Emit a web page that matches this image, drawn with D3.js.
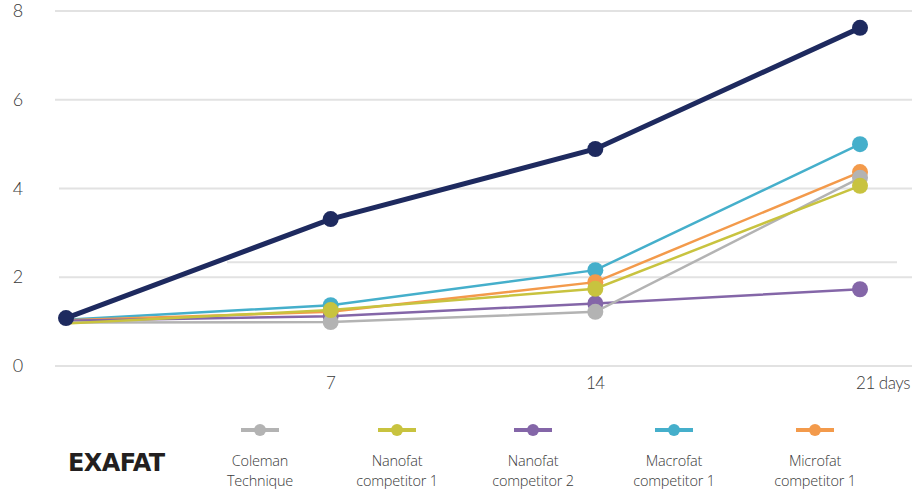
<!DOCTYPE html>
<html>
<head>
<meta charset="utf-8">
<script src="https://cdn.jsdelivr.net/npm/d3@7"></script>
<style>
  body { margin: 0; background: #fff; }
  text { font-family: Lato, "Open Sans", sans-serif; }
</style>
</head>
<body>
<svg id="chart" width="912" height="491"></svg>
<script>
// data
const days = [0, 7, 14, 21];
const yTicks = [0, 2, 4, 6, 8];
const xTickLabels = ["7", "14", "21 days"];

const exafat = [1.08, 3.31, 4.89, 7.62];
const coleman = [0.98, 0.99, 1.22, 4.24];
const nanofat1 = [0.96, 1.26, 1.74, 4.06];
const nanofat2 = [1.02, 1.12, 1.41, 1.73];
const macrofat1 = [1.04, 1.37, 2.16, 5.0];
const microfat1 = [1.03, 1.22, 1.89, 4.37];

const seriesNames = ["Coleman\nTechnique", "Nanofat\ncompetitor 1", "Nanofat\ncompetitor 2", "Macrofat\ncompetitor 1", "Microfat\ncompetitor 1"];
const seriesColors = ["#b3b3b3", "#c8c33f", "#8466a8", "#45afcb", "#f39a4b"];
const seriesValues = [coleman, nanofat1, nanofat2, macrofat1, microfat1];

const svg = d3.select("#chart");
const width = +svg.attr("width");

// scales
const x = d3.scaleLinear().domain([0, 21]).range([66, 860]);
const y = d3.scaleLinear().domain([0, 8]).range([366, 11]);

// grid
svg.append("g")
  .selectAll("line")
  .data(yTicks)
  .enter()
  .append("line")
    .attr("x1", d => (d === 2 || d === 4) ? 59 : 55)
    .attr("x2", width)
    .attr("y1", d => y(d))
    .attr("y2", d => y(d))
    .attr("stroke", "#e2e2e2")
    .attr("stroke-width", 2);

// stray rule seen in the original
svg.append("line")
  .attr("x1", 227).attr("x2", 897)
  .attr("y1", y(2.34)).attr("y2", y(2.34))
  .attr("stroke", "#e2e2e2")
  .attr("stroke-width", 2);

// y labels
svg.append("g")
  .selectAll("text")
  .data(yTicks)
  .enter()
  .append("text")
    .attr("x", 18)
    .attr("y", d => y(d) + 6)
    .attr("text-anchor", "middle")
    .attr("font-size", 18)
    .attr("font-weight", 300)
    .attr("fill", "#3a3a3a")
    .text(d => d);

// x labels
svg.append("g")
  .selectAll("text")
  .data(days.slice(1))
  .enter()
  .append("text")
    .attr("x", (d, i) => i === 2 ? x(d) + 23 : x(d))
    .attr("y", 389)
    .attr("text-anchor", "middle")
    .attr("font-size", 17)
    .attr("font-weight", 300)
    .attr("letter-spacing", "-0.5px")
    .attr("fill", "#3a3a3a")
    .text((d, i) => xTickLabels[i]);

const line = d3.line()
  .x((d, i) => x(days[i]))
  .y(d => y(d));

// competitor series, drawn in this order so overlaps look like the source
// (no marker at day 0, only EXAFAT shows one there)
const order = [3, 4, 2, 0, 1];
order.forEach(k => {
  const g = svg.append("g");
  g.append("path")
    .datum(seriesValues[k])
    .attr("d", line)
    .attr("fill", "none")
    .attr("stroke", seriesColors[k])
    .attr("stroke-width", 2.5);
  g.selectAll("circle")
    .data(seriesValues[k].slice(1))
    .enter()
    .append("circle")
      .attr("cx", (d, i) => x(days[i + 1]))
      .attr("cy", d => y(d))
      .attr("r", 8)
      .attr("fill", seriesColors[k]);
});

// EXAFAT on top
svg.append("path")
  .datum(exafat)
  .attr("d", line)
  .attr("fill", "none")
  .attr("stroke", "#1e2a5f")
  .attr("stroke-width", 5);
svg.append("g")
  .selectAll("circle")
  .data(exafat)
  .enter()
  .append("circle")
    .attr("cx", (d, i) => x(days[i]))
    .attr("cy", d => y(d))
    .attr("r", 8)
    .attr("fill", "#1e2a5f");

// legend
svg.append("text")
  .attr("x", 68)
  .attr("y", 471)
  .style("font-family", "'DejaVu Sans', sans-serif")
  .attr("font-size", 24)
  .attr("font-weight", 700)
  .attr("letter-spacing", "-0.6px")
  .attr("fill", "#231f20")
  .text("EXAFAT");

const legendX = [260, 397, 533, 674, 815];
const leg = svg.append("g")
  .selectAll("g")
  .data(seriesNames)
  .enter()
  .append("g")
    .attr("transform", (d, i) => `translate(${legendX[i]}, 0)`);

leg.append("line")
  .attr("x1", -19).attr("x2", 19)
  .attr("y1", 430).attr("y2", 430)
  .attr("stroke", (d, i) => seriesColors[i])
  .attr("stroke-width", 4);
leg.append("circle")
  .attr("cy", 430)
  .attr("r", 6)
  .attr("fill", (d, i) => seriesColors[i]);

// two text lines per entry
leg.selectAll(".lbl")
  .data(d => d.split("\n"))
  .enter()
  .append("text")
    .attr("class", "lbl")
    .attr("x", 0)
    .attr("y", (d, i) => 466 + i * 20)
    .attr("text-anchor", "middle")
    .style("font-family", "'Open Sans', sans-serif")
    .attr("font-size", 14.5)
    .attr("font-weight", 300)
    .attr("letter-spacing", "-0.2px")
    .attr("fill", "#3a3a3a")
    .text(d => d);
</script>
</body>
</html>
